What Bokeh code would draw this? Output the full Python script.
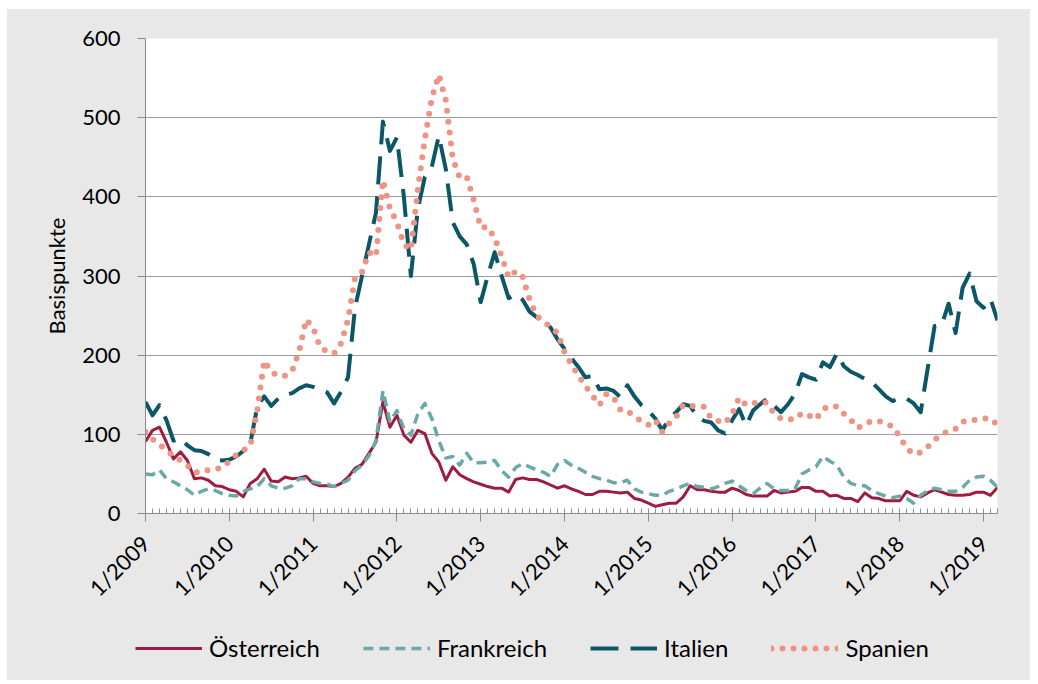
from math import pi
from bokeh.plotting import figure
from bokeh.layouts import column
from bokeh.models import Range1d, FixedTicker, Legend, LegendItem, ColumnDataSource
from bokeh.embed import file_html
from bokeh.resources import INLINE

# ---- data (monthly, 1/2009 .. 3/2019), basis points ----
year_labels = ["1/2009", "1/2010", "1/2011", "1/2012", "1/2013", "1/2014",
               "1/2015", "1/2016", "1/2017", "1/2018", "1/2019"]
y_ticks = [0, 100, 200, 300, 400, 500, 600]
series_names = ["Österreich", "Frankreich", "Italien", "Spanien"]

oesterreich = [91, 105, 109, 90, 69, 78, 67, 44, 45, 42, 35, 34,
               30, 28, 21, 38, 44, 56, 41, 40, 46, 44, 45, 47,
               38, 35, 35, 34, 38, 46, 57, 62, 76, 90, 141, 109,
               124, 99, 90, 105, 101, 76, 65, 42, 59, 49, 44, 40,
               37, 34, 32, 32, 27, 43, 45, 43, 43, 40, 36, 32,
               35, 31, 28, 24, 24, 28, 28, 27, 26, 27, 19, 17,
               13, 9, 11, 13, 13, 21, 35, 30, 30, 28, 27, 27,
               32, 29, 24, 22, 22, 22, 29, 26, 27, 28, 33, 33,
               28, 28, 22, 23, 19, 19, 15, 26, 20, 19, 16, 16,
               16, 28, 23, 21, 26, 30, 27, 24, 23, 23, 24, 27,
               27, 23, 33]

frankreich = [50, 49, 55, 44, 40, 35, 30, 23, 28, 31, 29, 25,
              23, 22, 28, 31, 34, 44, 35, 32, 32, 35, 44, 44,
              40, 38, 37, 34, 38, 42, 54, 61, 73, 92, 155, 116,
              130, 107, 99, 126, 139, 120, 92, 70, 72, 61, 76, 64,
              64, 65, 67, 54, 46, 58, 63, 59, 55, 52, 47, 62,
              67, 61, 57, 52, 47, 44, 42, 39, 39, 42, 31, 27,
              25, 23, 23, 28, 31, 35, 38, 34, 33, 31, 34, 38,
              41, 35, 29, 25, 32, 38, 31, 29, 29, 31, 50, 55,
              59, 72, 66, 61, 46, 38, 35, 35, 29, 25, 22, 20,
              22, 19, 13, 23, 29, 32, 30, 28, 28, 33, 42, 46,
              47, 42, 33]

italien = [141, 124, 137, 118, 92, 95, 86, 80, 79, 75, 68, 67,
           68, 72, 79, 88, 135, 148, 136, 145, 150, 152, 158, 162,
           160, 156, 153, 139, 154, 172, 260, 300, 340, 380, 495, 458,
           475, 400, 300, 385, 425, 438, 477, 435, 368, 350, 340, 315,
           267, 300, 330, 300, 272, 277, 270, 255, 248, 242, 235, 220,
           208, 196, 185, 172, 174, 157, 158, 155, 147, 162, 148, 137,
           130, 120, 105, 120, 128, 138, 136, 122, 117, 115, 105, 101,
           118, 132, 111, 130, 138, 145, 136, 128, 138, 151, 176, 172,
           169, 191, 185, 202, 186, 179, 175, 170, 166, 157, 148, 142,
           146, 145, 139, 128, 183, 237, 238, 265, 228, 285, 303, 268,
           260, 271, 244]

spanien = [103, 94, 87, 80, 73, 67, 61, 52, 52, 55, 56, 58,
           66, 74, 80, 85, 130, 193, 179, 174, 174, 180, 205, 245,
           235, 210, 205, 202, 215, 245, 298, 305, 330, 325, 421, 385,
           368, 340, 333, 410, 473, 525, 554, 522, 448, 424, 425, 396,
           361, 362, 348, 325, 298, 306, 299, 270, 250, 242, 236, 228,
           204, 188, 174, 161, 149, 137, 151, 147, 131, 130, 122, 117,
           112, 118, 103, 114, 122, 137, 136, 135, 135, 120, 117, 114,
           126, 146, 137, 139, 141, 140, 126, 120, 119, 119, 127, 124,
           119, 132, 136, 135, 126, 118, 108, 113, 117, 117, 113, 110,
           97, 82, 75, 77, 84, 93, 100, 104, 107, 116, 118, 118,
           120, 120, 112]

n = len(oesterreich)
source = ColumnDataSource(dict(
    x=list(range(n)),
    oe=oesterreich, fr=frankreich, it=italien, es=spanien,
))

FONT = "Lato"
GRAY_BG = "#e8e8e8"
AXIS_GRAY = "#8c8c8c"

styles = [
    dict(line_color="#9e1c40", line_width=3, line_join="round"),
    dict(line_color="#6ba8a9", line_width=3.5, line_dash="10 6", line_join="round"),
    dict(line_color="#0b5667", line_width=4, line_dash="28 12", line_join="round"),
    dict(line_color="#ef9385", line_width=6, line_dash="0 11",
         line_cap="round", line_join="round"),
]
cols = ["oe", "fr", "it", "es"]

p = figure(width=1023, height=604, output_backend="svg", toolbar_location=None,
           x_range=Range1d(0, n - 1), y_range=Range1d(0, 600),
           min_border_left=138, min_border_right=33,
           min_border_top=29, min_border_bottom=100,
           background_fill_color="white", border_fill_color=GRAY_BG)
p.outline_line_color = None
p.frame_align = False

# grid
p.xgrid.visible = False
p.ygrid.ticker = FixedTicker(ticks=y_ticks)
p.ygrid.grid_line_color = "#9c9c9c"
p.ygrid.grid_line_width = 1

# y axis
yax = p.yaxis[0]
yax.ticker = FixedTicker(ticks=y_ticks, minor_ticks=[])
yax.axis_line_color = AXIS_GRAY
yax.major_tick_line_color = AXIS_GRAY
yax.major_tick_in = 0
yax.major_tick_out = 8
yax.minor_tick_line_color = None
yax.major_label_text_font = FONT
yax.major_label_text_font_size = "22px"
yax.major_label_text_color = "black"
yax.major_label_standoff = 17
yax.axis_label = "Basispunkte"
yax.axis_label_text_font = FONT
yax.axis_label_text_font_size = "22px"
yax.axis_label_text_font_style = "normal"
yax.axis_label_text_color = "black"
yax.axis_label_standoff = 9

# x axis
xax = p.xaxis[0]
major_pos = [12 * k for k in range(len(year_labels))]
xax.ticker = FixedTicker(ticks=major_pos, minor_ticks=list(range(n)))
xax.major_label_overrides = {pos: lab for pos, lab in zip(major_pos, year_labels)}
xax.major_label_orientation = pi / 4
xax.axis_line_color = AXIS_GRAY
xax.major_tick_line_color = AXIS_GRAY
xax.minor_tick_line_color = AXIS_GRAY
xax.major_tick_in = 0
xax.major_tick_out = 8
xax.minor_tick_in = 5
xax.minor_tick_out = 0
xax.major_label_text_font = FONT
xax.major_label_text_font_size = "22px"
xax.major_label_text_color = "black"
xax.major_label_standoff = 18

# series
for c, st in zip(cols, styles):
    p.line("x", c, source=source, **st)

# legend strip (separate figure so it is not clipped)
leg = figure(width=1023, height=67, output_backend="svg", toolbar_location=None,
             x_range=Range1d(0, 1), y_range=Range1d(0, 1),
             x_axis_type=None, y_axis_type=None,
             min_border=0, background_fill_color=GRAY_BG, border_fill_color=GRAY_BG)
leg.outline_line_color = None
leg.frame_align = False
leg.xgrid.visible = False
leg.ygrid.visible = False
# placeholder renderers (outside the visible range) that carry the legend styles
dummy = [leg.line(x=[5, 6], y=[5, 6], **st) for st in styles]

legend = Legend(items=[LegendItem(label=nm, renderers=[r])
                       for nm, r in zip(series_names, dummy)],
                orientation="horizontal", location=(128, 18),
                glyph_width=67, glyph_height=24, label_standoff=7, spacing=43,
                padding=0, margin=0, border_line_alpha=0,
                background_fill_alpha=0,
                label_text_font=FONT, label_text_font_size="24px",
                label_text_color="black")
leg.add_layout(legend, "center")

layout = column(p, leg, spacing=0, margin=(9, 0, 0, 7),
                styles={"background-color": GRAY_BG})

open("out.html", "w").write(file_html(layout, INLINE))
